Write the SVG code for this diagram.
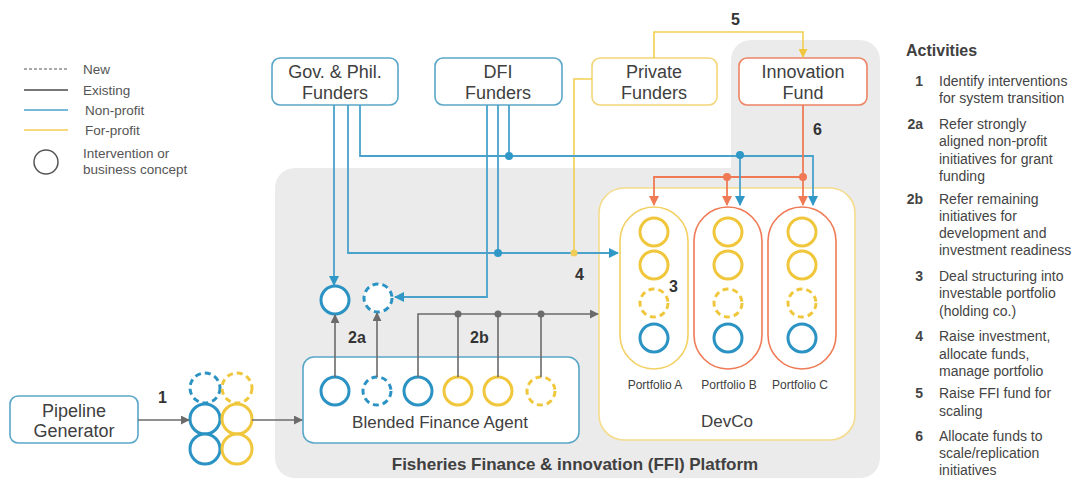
<svg xmlns="http://www.w3.org/2000/svg" width="1073" height="483" viewBox="0 0 1073 483">
  <style>
    text { font-family: "Liberation Sans", Arial, sans-serif; fill: #404040; }
    .lbl { font-size: 18px; text-anchor: middle; }
    .mid { font-size: 17px; text-anchor: middle; }
    .small { font-size: 12px; text-anchor: middle; }
    .leg { font-size: 13.5px; fill: #555; }
    .num { font-size: 16px; font-weight: bold; fill: #333; }
    .act { font-size: 14px; fill: #444; }
    .actn { font-size: 14px; font-weight: bold; fill: #444; text-anchor: end; }
    .box-blue { fill: #fff; stroke: #5aa6c8; stroke-width: 1.6; }
    .box-yel { fill: #fff; stroke: #f3d57a; stroke-width: 1.6; }
    .box-org { fill: #fff; stroke: #ee8464; stroke-width: 1.6; }
    .c-blue { fill: #fff; stroke: #2b93c3; stroke-width: 3; }
    .c-yel { fill: #fff; stroke: #f0c73c; stroke-width: 3; }
    .dash { stroke-dasharray: 6 4; }
    .ln-gray { fill: none; stroke: #6b6b6b; stroke-width: 1.6; }
    .ln-blue { fill: none; stroke: #4aa2cb; stroke-width: 1.8; }
    .ln-yel { fill: none; stroke: #f2cf52; stroke-width: 1.6; }
    .ln-org { fill: none; stroke: #ef7a55; stroke-width: 1.8; }
  </style>
  <defs>
    <marker id="ah-gray" viewBox="0 0 10 10" refX="9" refY="5" markerWidth="9" markerHeight="9" markerUnits="userSpaceOnUse" orient="auto">
      <path d="M0,0 L10,5 L0,10 z" fill="#6b6b6b"/>
    </marker>
    <marker id="ah-blue" viewBox="0 0 10 10" refX="9" refY="5" markerWidth="10" markerHeight="10" markerUnits="userSpaceOnUse" orient="auto">
      <path d="M0,0 L10,5 L0,10 z" fill="#2f98c6"/>
    </marker>
    <marker id="ah-org" viewBox="0 0 10 10" refX="9" refY="5" markerWidth="10" markerHeight="10" markerUnits="userSpaceOnUse" orient="auto">
      <path d="M0,0 L10,5 L0,10 z" fill="#ef7a55"/>
    </marker>
    <marker id="ah-yel" viewBox="0 0 10 10" refX="9" refY="5" markerWidth="9" markerHeight="9" markerUnits="userSpaceOnUse" orient="auto">
      <path d="M0,0 L10,5 L0,10 z" fill="#f0c73c"/>
    </marker>
  </defs>

  <rect width="1073" height="483" fill="#fff"/>

  <!-- FFI platform background -->
  <g id="platform">
    <path d="M275,188 A20,20 0 0 1 295,168 L731,168 L731,60 A20,20 0 0 1 751,40 L860,40 A20,20 0 0 1 880,60 L880,458 A20,20 0 0 1 860,478 L295,478 A20,20 0 0 1 275,458 Z" fill="#ebebeb"/>
    <text x="575" y="470" font-size="17" font-weight="bold" text-anchor="middle" fill="#333">Fisheries Finance &amp; innovation (FFI) Platform</text>
  </g>

  <!-- Legend -->
  <g id="legend">
    <line x1="24" y1="69" x2="68" y2="69" stroke="#555" stroke-width="1" stroke-dasharray="3 2"/>
    <text class="leg" x="83" y="74">New</text>
    <line x1="24" y1="90" x2="68" y2="90" stroke="#777" stroke-width="2"/>
    <text class="leg" x="83" y="95">Existing</text>
    <line x1="24" y1="110" x2="68" y2="110" stroke="#4aa2cb" stroke-width="1.5"/>
    <text class="leg" x="85" y="115">Non-profit</text>
    <line x1="24" y1="130" x2="68" y2="130" stroke="#f2cf52" stroke-width="1.5"/>
    <text class="leg" x="85" y="135">For-profit</text>
    <circle cx="46" cy="162" r="12" fill="none" stroke="#555" stroke-width="1.5"/>
    <text class="leg" x="83" y="158">Intervention or</text>
    <text class="leg" x="83" y="174">business concept</text>
  </g>

  <!-- Funders -->
  <g id="gov-phil-funders">
    <rect class="box-blue" x="272" y="58" width="126" height="47" rx="8"/>
    <text class="lbl" x="335" y="78">Gov. &amp; Phil.</text>
    <text class="lbl" x="335" y="99">Funders</text>
  </g>
  <g id="dfi-funders">
    <rect class="box-blue" x="435" y="58" width="127" height="47" rx="8"/>
    <text class="lbl" x="498" y="78">DFI</text>
    <text class="lbl" x="498" y="99">Funders</text>
  </g>
  <g id="private-funders">
    <rect class="box-yel" x="592" y="58" width="125" height="47" rx="8"/>
    <text class="lbl" x="654" y="78">Private</text>
    <text class="lbl" x="654" y="99">Funders</text>
  </g>
  <g id="innovation-fund">
    <rect class="box-org" x="739" y="58" width="128" height="47" rx="8"/>
    <text class="lbl" x="803" y="78">Innovation</text>
    <text class="lbl" x="803" y="99">Fund</text>
  </g>

  <!-- Grant-funded concepts -->
  <g id="grant-concepts">
    <circle class="c-blue" cx="335" cy="300" r="14"/>
    <circle class="c-blue dash" cx="378" cy="298" r="14"/>
  </g>

  <!-- Pipeline generator -->
  <g id="pipeline-generator">
    <rect class="box-blue" x="10" y="396" width="128" height="47" rx="8"/>
    <text class="lbl" x="74" y="417">Pipeline</text>
    <text class="lbl" x="74" y="437">Generator</text>
  </g>

  <!-- Pipeline concept cluster -->
  <g id="pipeline-concepts">
    <circle class="c-blue dash" cx="205" cy="388" r="15"/>
    <circle class="c-yel dash" cx="237" cy="388" r="15"/>
    <circle class="c-blue" cx="205" cy="419" r="15"/>
    <circle class="c-yel" cx="237" cy="419" r="15"/>
    <circle class="c-blue" cx="205" cy="449" r="15"/>
    <circle class="c-yel" cx="237" cy="449" r="15"/>
  </g>

  <!-- Blended Finance Agent -->
  <g id="blended-finance-agent">
    <rect class="box-blue" x="303" y="357" width="276" height="86" rx="11"/>
    <circle class="c-blue" cx="335" cy="391" r="14"/>
    <circle class="c-blue dash" cx="377" cy="391" r="14"/>
    <circle class="c-blue" cx="418" cy="391" r="14"/>
    <circle class="c-yel" cx="458" cy="391" r="14"/>
    <circle class="c-yel" cx="498" cy="391" r="14"/>
    <circle class="c-yel dash" cx="541" cy="391" r="14"/>
    <text class="mid" x="440" y="428">Blended Finance Agent</text>
  </g>

  <!-- DevCo holding company -->
  <g id="devco">
    <rect x="599" y="188" width="256" height="252" rx="25" fill="#fff" stroke="#f5dc8c" stroke-width="1.6"/>
    <text class="mid" x="727" y="427">DevCo</text>
  </g>
  <g id="portfolio-a">
    <rect x="620" y="207" width="68" height="162" rx="34" fill="#fff" stroke="#f3d061" stroke-width="1.6"/>
    <circle class="c-yel" cx="654" cy="232" r="14"/>
    <circle class="c-yel" cx="654" cy="265" r="14"/>
    <circle class="c-yel dash" cx="654" cy="303" r="14"/>
    <circle class="c-blue" cx="654" cy="338" r="14"/>
    <text class="small" x="655" y="389">Portfolio A</text>
  </g>
  <g id="portfolio-b">
    <rect x="694" y="207" width="68" height="162" rx="34" fill="#fff" stroke="#ef7a55" stroke-width="1.6"/>
    <circle class="c-yel" cx="728" cy="232" r="14"/>
    <circle class="c-yel" cx="728" cy="265" r="14"/>
    <circle class="c-yel dash" cx="728" cy="303" r="14"/>
    <circle class="c-blue" cx="728" cy="338" r="14"/>
    <text class="small" x="729" y="389">Portfolio B</text>
  </g>
  <g id="portfolio-c">
    <rect x="768" y="207" width="68" height="162" rx="34" fill="#fff" stroke="#ef7a55" stroke-width="1.6"/>
    <circle class="c-yel" cx="802" cy="232" r="14"/>
    <circle class="c-yel" cx="802" cy="265" r="14"/>
    <circle class="c-yel dash" cx="802" cy="303" r="14"/>
    <circle class="c-blue" cx="802" cy="338" r="14"/>
    <text class="small" x="800" y="389">Portfolio C</text>
  </g>

  <!-- Connectors (drawn over the node boxes) -->
  <g id="connectors">
    <!-- 5: private funders to innovation fund -->
    <path class="ln-yel" d="M654,58 L654,32 L803,32 L803,57" marker-end="url(#ah-yel)"/>
    <!-- private funders into portfolio A line -->
    <path class="ln-yel" d="M592,79 L574,79 L574,253"/>
    <!-- Gov. & Phil. funders -->
    <path class="ln-blue" d="M334,105 L334,285" marker-end="url(#ah-blue)"/>
    <path class="ln-blue" d="M348,105 L348,253 L618,253" marker-end="url(#ah-blue)"/>
    <path class="ln-blue" d="M360,105 L360,156 L813,156 L813,205" marker-end="url(#ah-blue)"/>
    <!-- DFI funders -->
    <path class="ln-blue" d="M487,105 L487,297 L395,297" marker-end="url(#ah-blue)"/>
    <path class="ln-blue" d="M498,105 L498,253"/>
    <path class="ln-blue" d="M509,105 L509,156"/>
    <!-- 6: innovation fund allocation -->
    <path class="ln-org" d="M803,105 L803,205" marker-end="url(#ah-org)"/>
    <path class="ln-org" d="M803,177 L654,177 L654,205" marker-end="url(#ah-org)"/>
    <path class="ln-org" d="M727,177 L727,205" marker-end="url(#ah-org)"/>
    <path class="ln-blue" d="M740,156 L740,205" marker-end="url(#ah-blue)"/>
    <!-- junction dots -->
    <circle cx="509" cy="156" r="4" fill="#2f98c6"/>
    <circle cx="740" cy="155" r="4" fill="#2f98c6"/>
    <circle cx="498" cy="253" r="4" fill="#2f98c6"/>
    <circle cx="574" cy="253" r="3.5" fill="#f0cd5a"/>
    <circle cx="803" cy="177" r="4" fill="#ef7a55"/>
    <circle cx="727" cy="177" r="4" fill="#ef7a55"/>
    <!-- 1: pipeline to cluster, cluster to agent -->
    <path class="ln-gray" d="M138,420 L189,420" marker-end="url(#ah-gray)"/>
    <path class="ln-gray" d="M252,420 L302,420" marker-end="url(#ah-gray)"/>
    <!-- 2a: refer to grant funding -->
    <path class="ln-gray" d="M335,377 L335,315" marker-end="url(#ah-gray)"/>
    <path class="ln-gray" d="M377,377 L377,313" marker-end="url(#ah-gray)"/>
    <!-- 2b: refer to DevCo -->
    <path class="ln-gray" d="M418,377 L418,314 L598,314" marker-end="url(#ah-gray)"/>
    <path class="ln-gray" d="M458,377 L458,314"/>
    <path class="ln-gray" d="M498,377 L498,314"/>
    <path class="ln-gray" d="M541,377 L541,314"/>
    <circle cx="458" cy="314" r="3.5" fill="#6b6b6b"/>
    <circle cx="498" cy="314" r="3.5" fill="#6b6b6b"/>
    <circle cx="541" cy="314" r="3.5" fill="#6b6b6b"/>
    <!-- step numbers -->
    <text class="num" x="731" y="25">5</text>
    <text class="num" x="813" y="135">6</text>
    <text class="num" x="575" y="280">4</text>
    <text class="num" x="669" y="292">3</text>
    <text class="num" x="158" y="403">1</text>
    <text class="num" x="348" y="343">2a</text>
    <text class="num" x="470" y="343">2b</text>
  </g>

  <!-- Activities list -->
  <g id="activities">
    <text x="906" y="56" font-size="16" font-weight="bold" fill="#222">Activities</text>
    <text class="actn" x="923" y="86">1</text>
    <text class="act" x="939" y="86">Identify interventions</text>
    <text class="act" x="939" y="103">for system transition</text>
    <text class="actn" x="923" y="129">2a</text>
    <text class="act" x="939" y="129">Refer strongly</text>
    <text class="act" x="939" y="146">aligned non-profit</text>
    <text class="act" x="939" y="164">initiatives for grant</text>
    <text class="act" x="939" y="181">funding</text>
    <text class="actn" x="923" y="204">2b</text>
    <text class="act" x="939" y="204">Refer remaining</text>
    <text class="act" x="939" y="221">initiatives for</text>
    <text class="act" x="939" y="238">development and</text>
    <text class="act" x="939" y="255">investment readiness</text>
    <text class="actn" x="923" y="281">3</text>
    <text class="act" x="939" y="281">Deal structuring into</text>
    <text class="act" x="939" y="298">investable portfolio</text>
    <text class="act" x="939" y="316">(holding co.)</text>
    <text class="actn" x="923" y="341">4</text>
    <text class="act" x="939" y="341">Raise investment,</text>
    <text class="act" x="939" y="359">allocate funds,</text>
    <text class="act" x="939" y="376">manage portfolio</text>
    <text class="actn" x="923" y="398">5</text>
    <text class="act" x="939" y="398">Raise FFI fund for</text>
    <text class="act" x="939" y="416">scaling</text>
    <text class="actn" x="923" y="441">6</text>
    <text class="act" x="939" y="441">Allocate funds to</text>
    <text class="act" x="939" y="458">scale/replication</text>
    <text class="act" x="939" y="475">initiatives</text>
  </g>
</svg>
